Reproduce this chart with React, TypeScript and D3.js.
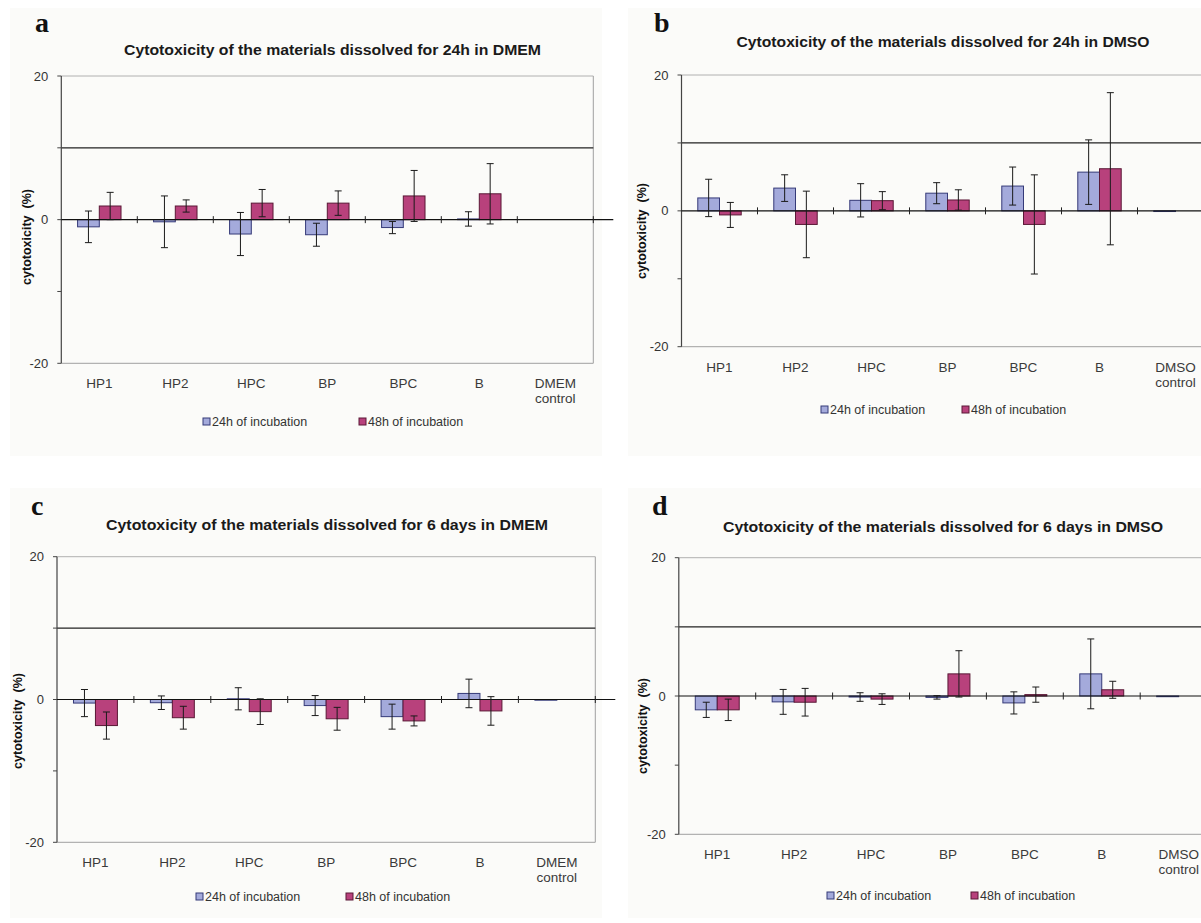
import React from "react";
import * as d3 from "d3";

// ---------- data ----------
const categories = ["HP1", "HP2", "HPC", "BP", "BPC", "B", "control"];
const seriesNames = ["24h of incubation", "48h of incubation"];
const yTickLabels = [20, 0, -20];
const yTickMarks = [20, 10, 0, -10, -20];
const thresholdValue = 10;

const a24 = [-1.0, -0.3, -2.0, -2.1, -1.1, 0.1, 0];
const a24err = [2.2, 3.6, 3.0, 1.6, 0.85, 1.0, 0];
const a48 = [1.9, 1.9, 2.3, 2.3, 3.3, 3.6, 0];
const a48err = [1.9, 0.85, 1.9, 1.7, 3.55, 4.2, 0];

const b24 = [1.9, 3.35, 1.55, 2.6, 3.65, 5.7, -0.1];
const b24err = [2.75, 1.96, 2.45, 1.55, 2.8, 4.75, 0];
const b48 = [-0.6, -2.0, 1.5, 1.6, -2.0, 6.2, 0];
const b48err = [1.84, 4.9, 1.33, 1.5, 7.3, 11.2, 0];

const c24 = [-0.5, -0.45, 0.1, -0.85, -2.4, 0.85, -0.1];
const c24err = [1.9, 0.95, 1.55, 1.4, 1.75, 2.0, 0];
const c48 = [-3.65, -2.55, -1.7, -2.7, -3.0, -1.6, 0];
const c48err = [1.9, 1.6, 1.8, 1.6, 0.7, 2.0, 0];

const d24 = [-2.0, -0.85, -0.15, -0.2, -1.0, 3.2, -0.1];
const d24err = [1.1, 1.8, 0.62, 0.25, 1.6, 5.05, 0];
const d48 = [-2.0, -0.9, -0.45, 3.2, 0.2, 0.9, 0];
const d48err = [1.55, 2.0, 0.77, 3.35, 1.1, 1.23, 0];

const titles = [
  "Cytotoxicity of the materials dissolved for 24h in DMEM",
  "Cytotoxicity of the materials dissolved for 24h in DMSO",
  "Cytotoxicity of the materials dissolved for 6 days in DMEM",
  "Cytotoxicity of the materials dissolved for 6 days in DMSO",
];
const controlNames = ["DMEM", "DMSO", "DMEM", "DMSO"];
const letters = ["a", "b", "c", "d"];

// ---------- style ----------
const FILL = ["#a4aadb", "#b8417c"];
const STROKE = ["#353a78", "#5a1836"];
const FONT = "'Liberation Sans', Arial, sans-serif";

type Layout = {
  left: number;
  top: number;
  bottom: number;
  catW: number;
  bg: [number, number, number, number];
  titleX: number;
  titleY: number;
  titleW: number;
  letterX: number;
  letterY: number;
  labelX: number;
  labelY: number;
  legendY: number;
  legendX: [number, number];
};

const layouts: Layout[] = [
  { left: 61.3, top: 76, bottom: 363.3, catW: 76, bg: [10, 8, 592, 448], titleX: 332.5, titleY: 55, titleW: 417, letterX: 35, letterY: 32, labelX: 31, labelY: 237, legendY: 422, legendX: [203, 359] },
  { left: 681.5, top: 75, bottom: 346.7, catW: 76, bg: [628, 8, 573, 448], titleX: 943, titleY: 47, titleW: 413, letterX: 654, letterY: 32, labelX: 646, labelY: 231, legendY: 410, legendX: [821, 962] },
  { left: 57, top: 556.7, bottom: 842.3, catW: 76.9, bg: [10, 488, 592, 430], titleX: 327, titleY: 530, titleW: 442, letterX: 31, letterY: 515, labelX: 22, labelY: 721, legendY: 897, legendX: [196, 346] },
  { left: 678.8, top: 557.7, bottom: 834.3, catW: 76.9, bg: [628, 488, 573, 430], titleX: 943, titleY: 532, titleW: 440, letterX: 652, letterY: 515, labelX: 647, labelY: 726, legendY: 896, legendX: [827, 971] },
];

const panelData = [
  { v: [a24, a48], e: [a24err, a48err] },
  { v: [b24, b48], e: [b24err, b48err] },
  { v: [c24, c48], e: [c24err, c48err] },
  { v: [d24, d48], e: [d24err, d48err] },
];

function Panel({ idx }: { idx: number }) {
  const L = layouts[idx];
  const data = panelData[idx];
  const right = L.left + L.catW * categories.length;
  const y = d3.scaleLinear().domain([-20, 20]).range([L.bottom, L.top]);
  const x = d3.scaleBand<string>().domain(categories).range([L.left, right]).padding(0);
  const sub = d3
    .scaleBand<string>()
    .domain(seriesNames)
    .range([0, x.bandwidth()])
    .paddingInner(0)
    .paddingOuter(0.75);
  const y0 = y(0);
  const capHalf = 3.5;

  return (
    <g>
      <rect x={L.bg[0]} y={L.bg[1]} width={L.bg[2]} height={L.bg[3]} fill="#fbfbf9" />
      {/* letter */}
      <text x={L.letterX} y={L.letterY} fontFamily="'Liberation Serif', 'Times New Roman', serif" fontWeight="bold" fontSize={28} fill="#111">
        {letters[idx]}
      </text>
      {/* title */}
      <text
        x={L.titleX - L.titleW / 2}
        y={L.titleY}
        textLength={L.titleW}
        lengthAdjust="spacingAndGlyphs"
        fontFamily={FONT}
        fontWeight="bold"
        fontSize={14.5}
        fill="#1a1a1a"
      >
        {titles[idx]}
      </text>
      {/* plot border */}
      <line x1={L.left} x2={right} y1={L.top} y2={L.top} stroke="#b0b0b0" strokeWidth={1} />
      <line x1={L.left} x2={right} y1={L.bottom} y2={L.bottom} stroke="#a0a0a0" strokeWidth={1} />
      <line x1={right} x2={right} y1={L.top} y2={L.bottom} stroke="#a0a0a0" strokeWidth={1} />
      {/* threshold line */}
      <line x1={L.left} x2={right} y1={y(thresholdValue)} y2={y(thresholdValue)} stroke="#222" strokeWidth={1.3} />
      {/* y axis */}
      <line x1={L.left} x2={L.left} y1={L.top} y2={L.bottom} stroke="#444" strokeWidth={1.2} />
      {yTickMarks.map((t) => (
        <line key={"ym" + t} x1={L.left - 4} x2={L.left} y1={y(t)} y2={y(t)} stroke="#444" strokeWidth={1} />
      ))}
      {yTickLabels.map((t) => (
        <text key={"yl" + t} x={L.left - 13} y={y(t)} dy="0.35em" textAnchor="end" fontFamily={FONT} fontSize={13} fill="#333">
          {t}
        </text>
      ))}
      <text
        transform={`translate(${L.labelX},${L.labelY}) rotate(-90)`}
        textAnchor="middle"
        fontFamily={FONT}
        fontWeight="bold"
        fontSize={12.5}
        fill="#111"
        style={{ whiteSpace: "pre" }}
      >
        {"cytotoxicity  (%)"}
      </text>
      {/* bars */}
      {categories.map((c, i) =>
        seriesNames.map((s, k) => {
          const v = data.v[k][i];
          if (v === 0) return null;
          const bx = (x(c) as number) + (sub(s) as number);
          const yv = y(v);
          return (
            <rect
              key={c + s}
              x={bx}
              y={Math.min(yv, y0)}
              width={sub.bandwidth()}
              height={Math.abs(yv - y0)}
              fill={FILL[k]}
              stroke={STROKE[k]}
              strokeWidth={1}
            />
          );
        })
      )}
      {/* x axis */}
      <line x1={L.left} x2={right + 20} y1={y0} y2={y0} stroke="#111" strokeWidth={1.2} />
      {categories.map((c, i) => {
        const tx = (x(c) as number) + x.bandwidth();
        return <line key={"xt" + i} x1={tx} x2={tx} y1={y0 - 3.5} y2={y0 + 3.5} stroke="#222" strokeWidth={1} />;
      })}
      {/* error bars */}
      {categories.map((c, i) =>
        seriesNames.map((s, k) => {
          const v = data.v[k][i];
          const e = data.e[k][i];
          if (!e) return null;
          const cx = (x(c) as number) + (sub(s) as number) + sub.bandwidth() / 2;
          const yt = y(v + e);
          const yb = y(v - e);
          return (
            <g key={"e" + c + s} stroke="#1a1a1a" strokeWidth={1}>
              <line x1={cx} x2={cx} y1={yt} y2={yb} />
              <line x1={cx - capHalf} x2={cx + capHalf} y1={yt} y2={yt} />
              <line x1={cx - capHalf} x2={cx + capHalf} y1={yb} y2={yb} />
            </g>
          );
        })
      )}
      {/* category labels */}
      {categories.map((c, i) => {
        const cx = (x(c) as number) + x.bandwidth() / 2;
        const ly = L.bottom + 25;
        if (c === "control") {
          return (
            <text key={"cl" + i} x={cx} y={ly} textAnchor="middle" fontFamily={FONT} fontSize={13.5} fill="#3a3a3a">
              <tspan x={cx}>{controlNames[idx]}</tspan>
              <tspan x={cx} dy={15}>control</tspan>
            </text>
          );
        }
        return (
          <text key={"cl" + i} x={cx} y={ly} textAnchor="middle" fontFamily={FONT} fontSize={13.5} fill="#3a3a3a">
            {c}
          </text>
        );
      })}
      {/* legend */}
      {seriesNames.map((s, k) => (
        <g key={"lg" + k} transform={`translate(${L.legendX[k]},${L.legendY})`}>
          <rect x={0} y={-4} width={7} height={7} fill={FILL[k]} stroke={STROKE[k]} strokeWidth={1} />
          <text x={9} y={0} dy="0.35em" fontFamily={FONT} fontSize={12.5} fill="#333">
            {s}
          </text>
        </g>
      ))}
    </g>
  );
}

export default function App() {
  return (
    <svg
      width={1201}
      height={923}
      style={{ position: "absolute", left: 0, top: 0, background: "#ffffff" }}
    >
      <rect x={0} y={0} width={1201} height={923} fill="#ffffff" />
      {layouts.map((_, i) => (
        <Panel key={i} idx={i} />
      ))}
    </svg>
  );
}
